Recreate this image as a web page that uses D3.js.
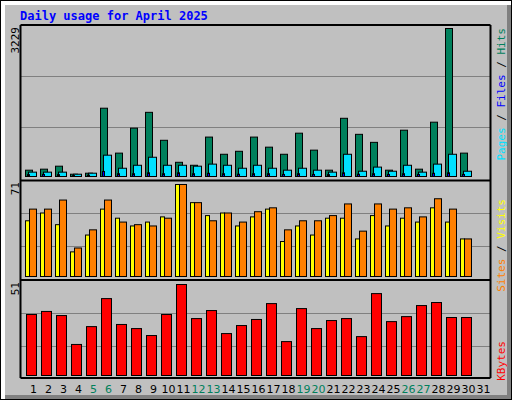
<!DOCTYPE html>
<html><head><meta charset="utf-8">
<script src="https://cdn.jsdelivr.net/npm/d3@7"></script>
<style>body{margin:0;background:#fff}svg{display:block}</style>
</head><body><div id="chart"></div>
<script>
"use strict";

var days = d3.range(1, 32);
var weekends = [5, 6, 12, 13, 19, 20, 26, 27];
var hits  = [138,160,225,50,72,1490,510,1055,1400,790,310,245,860,485,550,860,640,485,945,575,138,1270,920,745,138,1010,160,1185,3229,510];
var files = [95,95,95,50,72,465,180,245,420,245,245,225,270,245,180,245,180,138,180,138,95,485,115,205,115,245,95,270,485,115];
var pages = [40,45,40,20,30,110,60,60,80,60,80,60,70,60,50,60,60,45,60,45,40,80,50,60,45,60,45,70,80,45];
var sites  = [43,49,40,19,32,52,45,39,42,46,71,57,47,49,39,46,52,27,39,32,45,45,29,47,39,45,42,53,42,29];
var visits = [52,52,59,22,36,59,42,40,39,45,71,57,43,49,42,50,53,36,43,43,47,56,35,56,52,53,46,60,52,29];
var kbytes = [34.2,35.9,33.6,17.4,27.4,43.1,28.6,26.3,22.4,34.2,51,31.9,36.4,23.5,28,31.4,40.3,19,37.5,26.3,30.8,31.9,21.8,45.9,30.2,33,39.2,40.9,32.5,32.5];
var maxHits = 3229, maxVisits = 71, maxKB = 51;

var W = 512, H = 400;
var svg = d3.select("#chart").append("svg").attr("width", W).attr("height", H);
var mono = "'DejaVu Sans Mono', monospace";

// frame with 3D edges
svg.append("rect").attr("width", W).attr("height", H).attr("fill", "#000");
svg.append("rect").attr("x", 1).attr("y", 1).attr("width", W - 2).attr("height", H - 2).attr("fill", "#fff");
svg.append("rect").attr("x", 5).attr("y", 5).attr("width", W - 6).attr("height", H - 6).attr("fill", "#808080");
svg.append("rect").attr("x", 5).attr("y", 5).attr("width", W - 10).attr("height", H - 10).attr("fill", "#c0c0c0");

svg.append("text").attr("x", 20).attr("y", 20).text("Daily usage for April 2025")
  .attr("font-family", mono).attr("font-weight", "bold").attr("font-size", 12).attr("fill", "#0000ff");

var x = d3.scaleLinear().domain([1, 2]).range([25, 40]);
var L = 20.5, R = 490.5;

function panel(top, bottom, base, peak, max, grids) {
  var y = d3.scaleLinear().domain([0, max]).range([base, peak]);
  grids.forEach(function(g) {
    svg.append("line").attr("x1", L).attr("x2", R).attr("y1", g).attr("y2", g)
      .attr("stroke", "#808080").attr("stroke-width", 1);
  });
  return y;
}

function bars(vals, y, dx, w, color) {
  svg.append("g").selectAll("rect").data(vals).join("rect")
    .attr("x", function(d, i) { return x(i + 1) + dx; })
    .attr("y", function(d) { return y(d); })
    .attr("width", w)
    .attr("height", function(d) { return y(0) - y(d); })
    .attr("fill", color).attr("stroke", "#000").attr("stroke-width", 1);
}

var y1 = panel(25, 180, 176.5, 28.5, maxHits, [76.5, 127.5]);
bars(hits, y1, 0.5, 7, "#00805c");
bars(files, y1, 3.5, 8, "#00e0ff");
bars(pages, y1, 2.5, 2, "#0000ff");

var y2 = panel(180, 280, 276.5, 184.5, maxVisits, [213.5, 246.5]);
bars(sites, y2, 0.5, 4, "#ffff00");
bars(visits, y2, 4.5, 7, "#ff8000");

var y3 = panel(280, 378, 375.5, 284.5, maxKB, [313.5, 346.5]);
bars(kbytes, y3, 1.5, 10, "#ff0000");

// panel borders
[[L, 25, R, 25], [L, 180.5, R, 180.5], [L, 280, R, 280], [L, 378, R, 378], [L, 25, L, 378], [R, 25, R, 378]]
  .forEach(function(s) {
    svg.append("line").attr("x1", s[0]).attr("y1", s[1]).attr("x2", s[2]).attr("y2", s[3])
      .attr("stroke", "#000").attr("stroke-width", 2);
  });

// max labels
[[3229, 27], [71, 182], [51, 282]].forEach(function(m) {
  svg.append("text").attr("transform", "translate(19," + m[1] + ") rotate(-90)")
    .attr("text-anchor", "end").attr("font-family", mono).attr("font-size", 11).attr("fill", "#000")
    .text(m[0]);
});

// right legends
function legend(parts, yEnd) {
  var t = svg.append("text").attr("transform", "translate(505," + yEnd + ") rotate(-90)")
    .attr("text-anchor", "end").attr("font-family", mono).attr("font-size", 11);
  parts.forEach(function(p) { t.append("tspan").attr("fill", p[1]).text(p[0]); });
}
legend([["Pages", "#00e0ff"], [" / ", "#000"], ["Files", "#0000ff"], [" / ", "#000"], ["Hits", "#00805c"]], 28);
legend([["Sites", "#ff8000"], [" / ", "#000"], ["Visits", "#ffff00"]], 199);
legend([["KBytes", "#ff0000"]], 341);

// day labels
svg.append("g").selectAll("text").data(days).join("text")
  .attr("x", function(d) { return x(d) + 8.5; })
  .attr("y", 393)
  .attr("text-anchor", "middle")
  .attr("font-family", "'DejaVu Sans', sans-serif").attr("font-size", 11)
  .attr("fill", function(d) { return weekends.indexOf(d) >= 0 ? "#00805c" : "#000"; })
  .text(function(d) { return d; });
</script></body></html>
